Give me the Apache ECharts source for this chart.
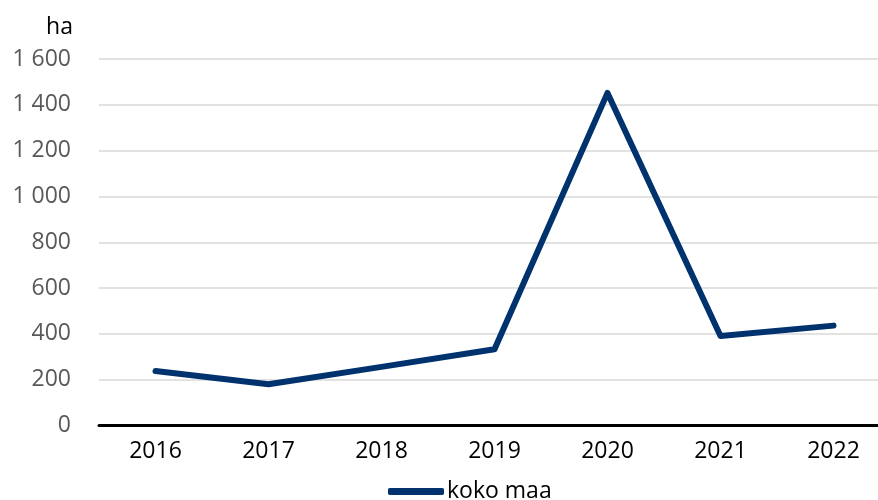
<!DOCTYPE html>
<html><head><meta charset="utf-8">
<script src="https://cdn.jsdelivr.net/npm/echarts@6/dist/echarts.min.js"></script>
<style>html,body{margin:0;padding:0;background:#fff;overflow:hidden;width:878px;height:500px}#c{width:890px;height:500px}</style>
</head><body><div id="c"></div>
<script>
const years = ['2016','2017','2018','2019','2020','2021','2022'];
const kokoMaa = [238, 180, 256, 333, 1452, 391, 436];
const seriesName = 'koko maa';
const unitLabel = 'ha';

const chart = echarts.init(document.getElementById('c'));
const FONT = '"Open Sans", sans-serif';
chart.setOption({
  animation: false,
  grid: {left: 99, right: 0, top: 59, bottom: 74.5, containLabel: false},
  legend: {
    data: [seriesName], left: 383, top: 475,
    icon: 'roundRect', itemWidth: 56, itemHeight: 7, itemGap: 10,
    textStyle: {fontFamily: FONT, fontSize: 23, color: '#000', padding: [0,0,0,-2]}
  },
  xAxis: {
    type: 'category', data: years, boundaryGap: true,
    axisLine: {lineStyle: {color: '#000', width: 3}},
    axisTick: {show: false},
    axisLabel: {fontFamily: FONT, fontSize: 23, color: '#000', margin: 14}
  },
  yAxis: {
    type: 'value', min: 0, max: 1600, interval: 200,
    name: unitLabel, nameLocation: 'end', nameGap: 20,
    nameTextStyle: {fontFamily: FONT, fontSize: 23, color: '#000', align: 'right', padding: [0, 26, 0, 0]},
    axisLine: {show: false}, axisTick: {show: false},
    axisLabel: {fontFamily: FONT, fontSize: 23, color: '#595959', margin: 28,
      formatter: v => String(v).replace(/\B(?=(\d{3})+(?!\d))/g, ' ')},
    splitLine: {lineStyle: {color: '#d9d9d9', width: 1.5}}
  },
  series: [{
    name: seriesName, type: 'line', data: kokoMaa,
    showSymbol: false, symbol: 'none',
    lineStyle: {color: '#00326e', width: 6, cap: 'round', join: 'round'},
    itemStyle: {color: '#00326e'}
  }]
});
</script></body></html>
